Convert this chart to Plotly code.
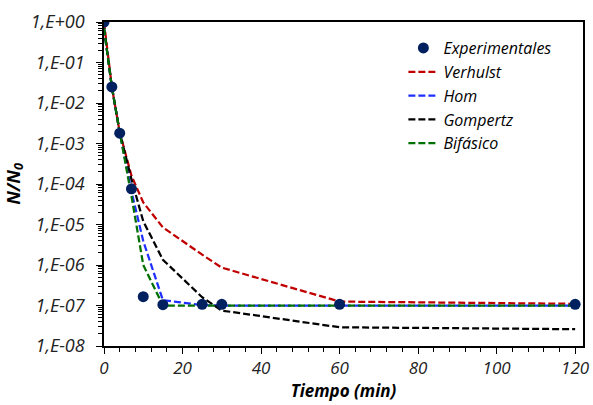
import plotly.graph_objects as go

t = [0, 2, 4, 7, 10, 15, 25, 30, 60, 120]
experimentales = [1.0, 2.5e-2, 1.8e-3, 7.6e-5, 1.65e-7, 1.05e-7, 1.07e-7, 1.07e-7, 1.07e-7, 1.07e-7]
verhulst = [1.0, 2.5e-2, 1.9e-3, 1.6e-4, 3.5e-5, 8.5e-6, 1.8e-6, 8.6e-7, 1.25e-7, 1.1e-7]
hom = [0.7, 2.5e-2, 1.9e-3, 6.5e-5, 3.9e-6, 1.35e-7, 1.02e-7, 1.0e-7, 1.0e-7, 1.0e-7]
gompertz = [0.7, 2.5e-2, 1.9e-3, 1.3e-4, 1.2e-5, 1.35e-6, 1.6e-7, 7.5e-8, 2.9e-8, 2.6e-8]
bifasico = [0.7, 2.5e-2, 1.9e-3, 5.0e-5, 1.0e-6, 1.0e-7, 1.0e-7, 1.0e-7, 1.0e-7, 1.0e-7]

ytickvals = [1e0, 1e-1, 1e-2, 1e-3, 1e-4, 1e-5, 1e-6, 1e-7, 1e-8]
yticktext = ["1,E+00", "1,E-01", "1,E-02", "1,E-03", "1,E-04", "1,E-05", "1,E-06", "1,E-07", "1,E-08"]

FONT = "Open Sans"

fig = go.Figure()
models = [
    ("Verhulst", verhulst, "#C00000", 2),
    ("Hom", hom, "#1F2FFF", 3),
    ("Gompertz", gompertz, "#000000", 4),
    ("Bifásico", bifasico, "#007000", 5),
]
for name, vals, col, rank in models:
    fig.add_trace(go.Scatter(x=t, y=vals, mode="lines", name=name,
                             line=dict(color=col, width=2.25, dash="7px,3px"),
                             legendrank=rank))
fig.add_trace(go.Scatter(x=t, y=experimentales, mode="markers", name="Experimentales",
                         marker=dict(color="#002060", size=11), legendrank=1))

minor_y = [m * 10 ** e for e in range(-8, 0) for m in range(2, 10)]

fig.update_layout(
    width=593, height=405,
    margin=dict(l=104, r=10, t=22, b=59),
    plot_bgcolor="white", paper_bgcolor="white",
    font=dict(family=FONT, size=14, color="#000000"),
    legend=dict(x=0.625, y=0.972, xanchor="left", yanchor="top",
                font=dict(family=FONT, size=16, style="italic"),
                bgcolor="rgba(0,0,0,0)", tracegroupgap=0),
    showlegend=True,
)
fig.update_xaxes(
    range=[0, 122], tickvals=[0, 20, 40, 60, 80, 100, 120],
    showline=True, linecolor="black", linewidth=1.5, mirror=True,
    ticks="outside", ticklen=6, tickcolor="black", tickwidth=1,
    minor=dict(ticks="outside", ticklen=4, tickcolor="black", dtick=4, tick0=0),
    showgrid=False, zeroline=False, automargin=False,
    tickfont=dict(family=FONT, size=17, style="italic", color="#222"),
    title=dict(text="Tiempo (min)", standoff=4,
               font=dict(family=FONT, size=17, style="italic", weight="bold")),
)
fig.update_yaxes(
    type="log", range=[-8, 0],
    tickmode="array", tickvals=ytickvals, ticktext=yticktext,
    showline=True, linecolor="black", linewidth=1.5, mirror=True,
    ticks="outside", ticklen=6, tickcolor="black", tickwidth=1,
    minor=dict(ticks="outside", ticklen=4, tickcolor="black", tickmode="array", tickvals=minor_y),
    showgrid=False, zeroline=False, automargin=False, ticklabelstandoff=8,
    tickfont=dict(family=FONT, size=18, style="italic", color="#222"),
    title=dict(text="N/N<sub>0</sub>", standoff=6,
               font=dict(family=FONT, size=18, style="italic", weight="bold")),
)

fig.write_html("out.html", config={"displayModeBar": False},
               post_script="document.body.style.margin='0px';")
